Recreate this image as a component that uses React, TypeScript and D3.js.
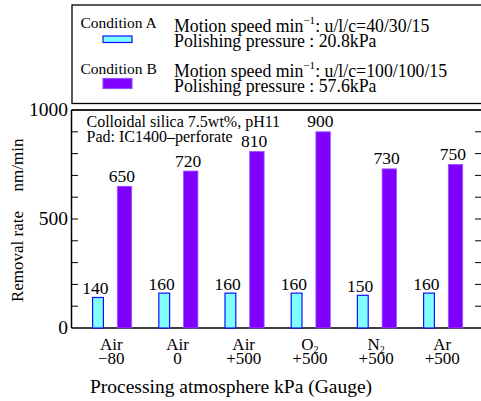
import React, { useEffect, useRef } from 'react';
import * as d3 from 'd3';

const gases = ['Air', 'Air', 'Air', 'O2', 'N2', 'Ar'];
const pressures = ['\u221280', '0', '+500', '+500', '+500', '+500'];
const condA = [140, 160, 160, 160, 150, 160];
const condB = [650, 720, 810, 900, 730, 750];
const yTicks = [0, 500, 1000];

const W = 481;
const H = 401;
const FONT = '"Liberation Serif", "Times New Roman", serif';

const App = () => {
  const svgRef = useRef<SVGSVGElement>(null);

  useEffect(() => {
    if (!svgRef.current) return;
    const svg = d3.select(svgRef.current);
    svg.selectAll('*').remove();
    svg.attr('font-family', FONT);

    const left = 71.5, right = 481, top = 110, bottom = 328;

    const x = d3.scalePoint<number>().domain(d3.range(gases.length)).range([111.3, 442.3]);
    const y = d3.scaleLinear().domain([0, 1000]).range([bottom, top]);

    // legend box
    svg.append('rect').attr('x', 72).attr('y', 5).attr('width', 420).attr('height', 98.5)
      .attr('fill', 'none').attr('stroke', '#000').attr('stroke-width', 1.3);

    const legend = [
      { name: 'Condition A', fill: '#80ffff', stroke: '#1010ff', speed: 'u/l/c=40/30/15', press: '20.8kPa',
        nameY: 28, swY: 36, swH: 6.5, motionY: 32, pressY: 47 },
      { name: 'Condition B', fill: '#8000ff', stroke: '#9050ff', speed: 'u/l/c=100/100/15', press: '57.6kPa',
        nameY: 74, swY: 78.5, swH: 10, motionY: 76.5, pressY: 92 }
    ];
    legend.forEach(l => {
      svg.append('text').attr('x', 80.5).attr('y', l.nameY).attr('font-size', 15.5).text(l.name);
      svg.append('rect').attr('x', 103).attr('y', l.swY).attr('width', 29).attr('height', l.swH)
        .attr('fill', l.fill).attr('stroke', l.stroke).attr('stroke-width', 1.2);
      const t = svg.append('text').attr('x', 174).attr('y', l.motionY).attr('font-size', 17.8);
      t.append('tspan').text('Motion speed min');
      t.append('tspan').attr('dy', -8).attr('font-size', 11).text('\u22121');
      t.append('tspan').attr('dy', 8).text(': ' + l.speed);
      svg.append('text').attr('x', 174).attr('y', l.pressY).attr('font-size', 17.8)
        .text('Polishing pressure : ' + l.press);
    });

    // plot frame
    svg.append('line').attr('x1', left).attr('x2', right).attr('y1', top).attr('y2', top)
      .attr('stroke', '#222').attr('stroke-width', 2);
    svg.append('line').attr('x1', left).attr('x2', right).attr('y1', bottom).attr('y2', bottom)
      .attr('stroke', '#000').attr('stroke-width', 1.5);
    svg.append('line').attr('x1', left).attr('x2', left).attr('y1', top).attr('y2', bottom)
      .attr('stroke', '#000').attr('stroke-width', 1.5);

    // minor ticks every 100, on both sides
    d3.range(100, 1000, 100).forEach(v => {
      svg.append('line').attr('x1', left).attr('x2', left + 6.5).attr('y1', y(v)).attr('y2', y(v))
        .attr('stroke', '#000').attr('stroke-width', 1);
      svg.append('line').attr('x1', 475).attr('x2', right).attr('y1', y(v)).attr('y2', y(v))
        .attr('stroke', '#000').attr('stroke-width', 1);
    });

    yTicks.forEach(v => {
      svg.append('text').attr('x', 68).attr('y', y(v) + 6).attr('text-anchor', 'end')
        .attr('font-size', 19.5).text(String(v));
    });

    svg.append('text').attr('transform', 'translate(23,256.5) rotate(-90)')
      .attr('text-anchor', 'middle').attr('font-size', 17).text('Removal rate');
    svg.append('text').attr('transform', 'translate(23,165) rotate(-90)')
      .attr('text-anchor', 'middle').attr('font-size', 17).text('nm/min');

    // annotation
    svg.append('text').attr('x', 86.5).attr('y', 127.3).attr('font-size', 16).text('Colloidal silica 7.5wt%, pH11');
    svg.append('text').attr('x', 86.5).attr('y', 141.7).attr('font-size', 16).text('Pad: IC1400\u2013perforate');

    // bars
    const g = svg.append('g');
    condA.forEach((v, i) => {
      const cx = x(i)!;
      g.append('rect').attr('x', cx - 18.7).attr('y', y(v)).attr('width', 10.8).attr('height', y(0) - y(v))
        .attr('fill', '#80ffff').attr('stroke', '#1010ff').attr('stroke-width', 1.2);
      g.append('text').attr('x', cx - 16).attr('y', y(v) - 3).attr('text-anchor', 'middle')
        .attr('font-size', 17.5).text(String(v));
    });
    condB.forEach((v, i) => {
      const cx = x(i)!;
      g.append('rect').attr('x', cx + 6).attr('y', y(v)).attr('width', 14.4).attr('height', y(0) - y(v))
        .attr('fill', '#8000ff').attr('stroke', '#9a55ff').attr('stroke-width', 0.8);
      g.append('text').attr('x', cx + 10.5).attr('y', y(v) - 4.5).attr('text-anchor', 'middle')
        .attr('font-size', 17.5).text(String(v));
    });

    // x labels
    gases.forEach((gname, i) => {
      const cx = x(i)!;
      const t = svg.append('text').attr('x', cx).attr('y', 350).attr('text-anchor', 'middle').attr('font-size', 17);
      if (gname.length === 2 && /\d/.test(gname[1])) {
        t.append('tspan').text(gname[0]);
        t.append('tspan').attr('dy', 2.5).attr('font-size', 10).text(gname[1]);
      } else {
        t.text(gname);
      }
      svg.append('text').attr('x', cx).attr('y', 364).attr('text-anchor', 'middle').attr('font-size', 17)
        .text(pressures[i]);
    });

    svg.append('text').attr('x', 231).attr('y', 393).attr('text-anchor', 'middle').attr('font-size', 19.5)
      .text('Processing atmosphere kPa (Gauge)');
  }, []);

  return <svg ref={svgRef} width={W} height={H} style={{ position: 'absolute', left: 0, top: 0, background: '#fff' }} />;
};

export default App;
